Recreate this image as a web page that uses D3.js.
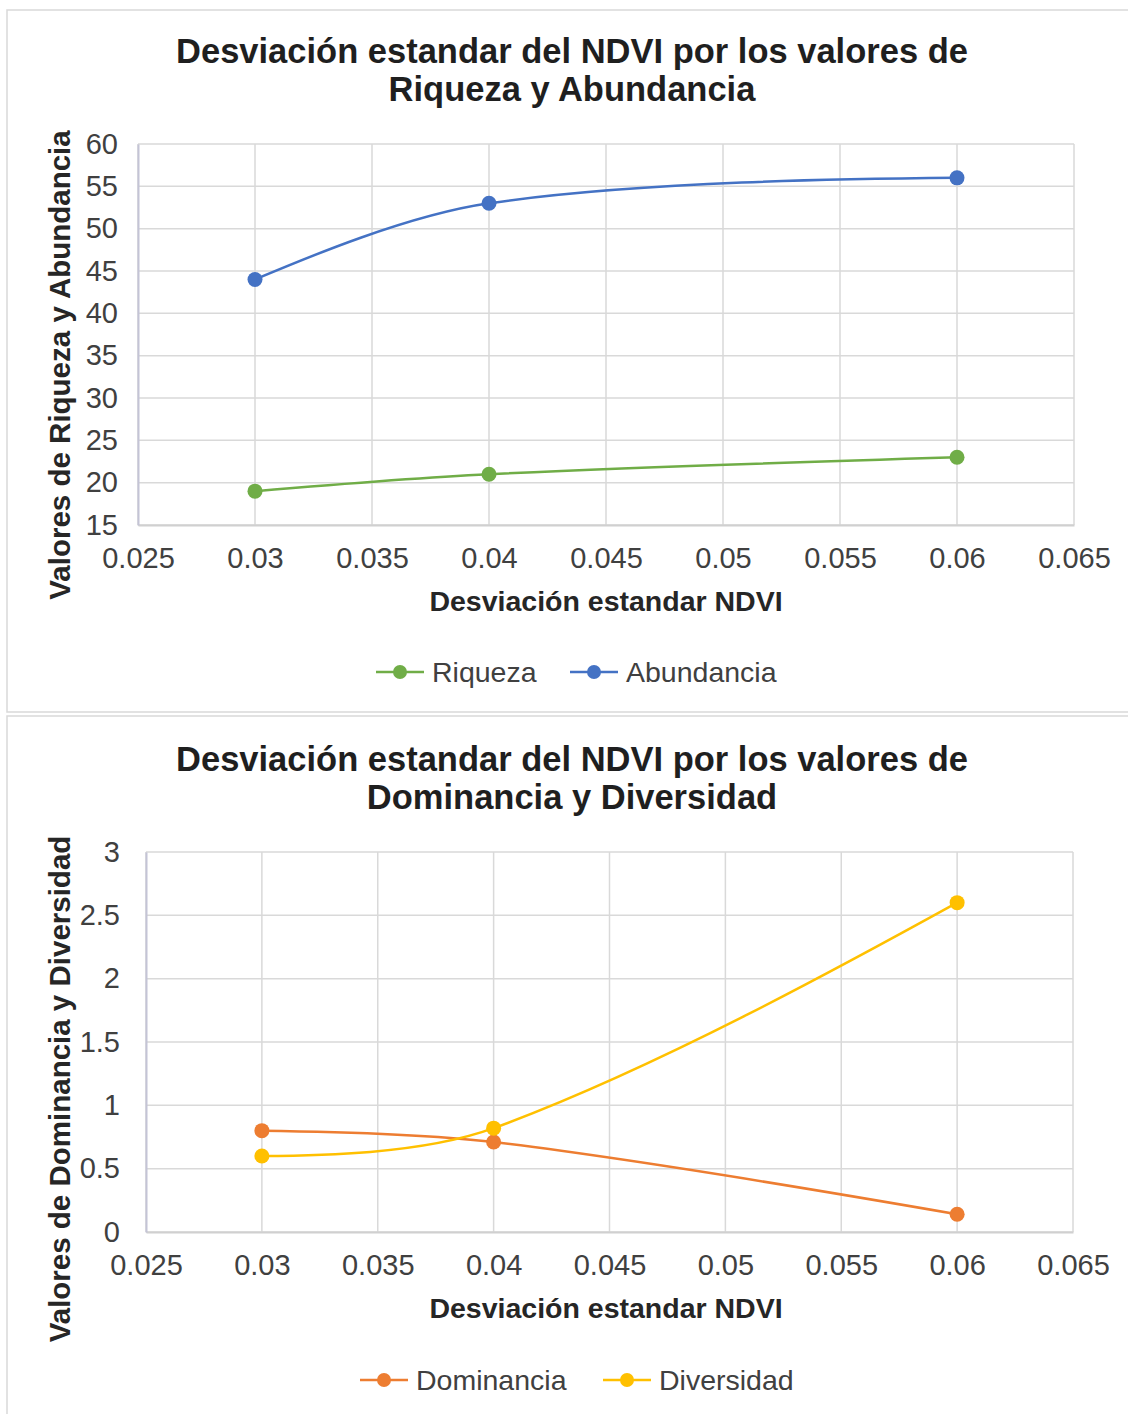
<!DOCTYPE html>
<html>
<head>
<meta charset="utf-8">
<script src="https://cdn.jsdelivr.net/npm/d3@7"></script>
<style>
  html, body { margin: 0; padding: 0; background: #fff; }
  svg { display: block; font-family: "Liberation Sans", Arial, sans-serif; }
</style>
</head>
<body>
<svg id="chart" width="1128" height="1414"></svg>
<script>
// NDVI standard deviation (shared x values)
const ndviSd = [0.03, 0.04, 0.06];
const xTickValues = [0.025, 0.03, 0.035, 0.04, 0.045, 0.05, 0.055, 0.06, 0.065];

// Top chart: richness and abundance
const riqueza = [19, 21, 23];
const abundancia = [44, 53, 56];
const yTicksTop = [15, 20, 25, 30, 35, 40, 45, 50, 55, 60];

// Bottom chart: dominance and diversity
const dominancia = [0.8, 0.71, 0.14];
const diversidad = [0.6, 0.82, 2.6];
const yTicksBottom = [0, 0.5, 1, 1.5, 2, 2.5, 3];

const svg = d3.select("#chart");
const fmt = d => String(+d.toFixed(3));
const FONT = "Liberation Sans, Arial, sans-serif";

// Spreadsheet-style smoothed line: at each interior point the tangent follows
// the chord between its neighbours, with handle lengths of a third of the
// adjacent segment; end handles aim at the neighbouring handle.
function smoothPath(pts) {
  const p = d3.path();
  const n = pts.length;
  if (n < 3) {
    p.moveTo(pts[0][0], pts[0][1]);
    pts.slice(1).forEach(q => p.lineTo(q[0], q[1]));
    return p.toString();
  }
  const before = [], after = [];
  for (let i = 1; i < n - 1; i++) {
    const dx = pts[i + 1][0] - pts[i - 1][0], dy = pts[i + 1][1] - pts[i - 1][1];
    const len = Math.hypot(dx, dy) || 1;
    const ux = dx / len, uy = dy / len;
    const dPrev = Math.hypot(pts[i][0] - pts[i - 1][0], pts[i][1] - pts[i - 1][1]) / 3;
    const dNext = Math.hypot(pts[i + 1][0] - pts[i][0], pts[i + 1][1] - pts[i][1]) / 3;
    before[i] = [pts[i][0] - ux * dPrev, pts[i][1] - uy * dPrev];
    after[i] = [pts[i][0] + ux * dNext, pts[i][1] + uy * dNext];
  }
  after[0] = [pts[0][0] + (before[1][0] - pts[0][0]) / 3, pts[0][1] + (before[1][1] - pts[0][1]) / 3];
  before[n - 1] = [pts[n - 1][0] + (after[n - 2][0] - pts[n - 1][0]) / 3,
                   pts[n - 1][1] + (after[n - 2][1] - pts[n - 1][1]) / 3];
  p.moveTo(pts[0][0], pts[0][1]);
  for (let i = 1; i < n; i++) {
    p.bezierCurveTo(after[i - 1][0], after[i - 1][1], before[i][0], before[i][1], pts[i][0], pts[i][1]);
  }
  return p.toString();
}

function drawChart(cfg) {
  const g = svg.append("g").attr("transform", `translate(0,${cfg.top})`);

  // panel frame
  g.append("rect")
    .attr("x", cfg.frame[0]).attr("y", cfg.frame[1])
    .attr("width", cfg.frame[2]).attr("height", cfg.frame[3])
    .attr("fill", "#fff").attr("stroke", "#d9d9d9").attr("stroke-width", 1.5);

  // title
  const title = g.append("text")
    .attr("text-anchor", "middle")
    .attr("font-weight", "bold").attr("font-size", 34.5).attr("fill", "#1f1f1f");
  cfg.title.forEach((line, i) => {
    title.append("tspan").attr("x", 572).attr("y", 63 + i * 38).text(line);
  });

  const x = d3.scaleLinear().domain([0.025, 0.065]).range([cfg.plot.left, cfg.plot.right]);
  const y = d3.scaleLinear().domain(cfg.yDomain).range([cfg.plot.bottom, cfg.plot.top]);

  // gridlines
  const grid = g.append("g");
  grid.selectAll("line.h").data(cfg.yTicks).join("line")
    .attr("x1", cfg.plot.left).attr("x2", cfg.plot.right)
    .attr("y1", d => y(d)).attr("y2", d => y(d))
    .attr("stroke", "#d9d9d9").attr("stroke-width", 1.5);
  grid.selectAll("line.v").data(xTickValues).join("line")
    .attr("y1", cfg.plot.top).attr("y2", cfg.plot.bottom)
    .attr("x1", d => x(d)).attr("x2", d => x(d))
    .attr("stroke", "#d9d9d9").attr("stroke-width", 1.5);

  // axes
  const xAxis = g.append("g")
    .attr("transform", `translate(0,${cfg.plot.bottom})`)
    .call(d3.axisBottom(x).tickValues(xTickValues).tickFormat(fmt).tickSize(0).tickPadding(22));
  xAxis.select(".domain").attr("stroke", "#d0d0d0").attr("stroke-width", 2);
  xAxis.selectAll("text").attr("font-size", 29).attr("fill", "#404040").attr("font-family", FONT);

  const yAxis = g.append("g")
    .attr("transform", `translate(${cfg.plot.left},0)`)
    .call(d3.axisLeft(y).tickValues(cfg.yTicks).tickFormat(fmt).tickSize(0).tickPadding(cfg.yPad));
  yAxis.select(".domain").attr("stroke", "#c4c4d6").attr("stroke-width", 2);
  yAxis.selectAll("text").attr("font-size", 29).attr("fill", "#404040").attr("font-family", FONT);

  // axis titles
  g.append("text")
    .attr("x", 606).attr("y", cfg.xTitleY)
    .attr("text-anchor", "middle").attr("font-weight", "bold")
    .attr("font-size", 28.5).attr("fill", "#262626")
    .text("Desviación estandar NDVI");
  g.append("text")
    .attr("transform", `translate(${cfg.yTitleX},${cfg.yTitleC}) rotate(-90)`)
    .attr("text-anchor", "middle").attr("font-weight", "bold")
    .attr("font-size", 29.5).attr("fill", "#262626")
    .text(cfg.yTitle);

  // smoothed series lines and markers
  cfg.series.forEach(s => {
    const pts = s.values.map((v, i) => [x(ndviSd[i]), y(v)]);
    g.append("path")
      .attr("d", smoothPath(pts)).attr("fill", "none")
      .attr("stroke", s.color).attr("stroke-width", 2.5);
    g.selectAll(null).data(s.values).join("circle")
      .attr("cx", (d, i) => x(ndviSd[i])).attr("cy", d => y(d))
      .attr("r", 7.5).attr("fill", s.color);
  });

  // legend
  const leg = g.append("g");
  cfg.series.forEach((s, i) => {
    const lx = cfg.legendX[i];
    const item = leg.append("g").attr("transform", `translate(${lx},${cfg.legendY})`);
    item.append("line").attr("x1", 0).attr("x2", 48).attr("y1", 0).attr("y2", 0)
      .attr("stroke", s.color).attr("stroke-width", 2.5);
    item.append("circle").attr("cx", 24).attr("cy", 0).attr("r", 7).attr("fill", s.color);
    item.append("text").attr("x", 56).attr("y", 10)
      .attr("font-size", 28.5).attr("fill", "#404040").text(s.name);
  });
}

drawChart({
  top: 0,
  frame: [7, 10, 1125, 702],
  title: ["Desviación estandar del NDVI por los valores de", "Riqueza y Abundancia"],
  plot: { left: 138, right: 1074, top: 144, bottom: 525 },
  yDomain: [15, 60],
  yTicks: yTicksTop,
  yPad: 20,
  xTitleY: 611,
  yTitleX: 70,
  yTitleC: 365,
  yTitle: "Valores de Riqueza y Abundancia",
  series: [
    { name: "Riqueza", values: riqueza, color: "#70ad47" },
    { name: "Abundancia", values: abundancia, color: "#4472c4" }
  ],
  legendX: [376, 570],
  legendY: 672
});

drawChart({
  top: 708,
  frame: [7, 8, 1125, 702],
  title: ["Desviación estandar del NDVI por los valores de", "Dominancia y Diversidad"],
  plot: { left: 146, right: 1073, top: 144, bottom: 524 },
  yDomain: [0, 3],
  yTicks: yTicksBottom,
  yPad: 26,
  xTitleY: 610,
  yTitleX: 70,
  yTitleC: 381,
  yTitle: "Valores de Dominancia y Diversidad",
  series: [
    { name: "Dominancia", values: dominancia, color: "#ed7d31" },
    { name: "Diversidad", values: diversidad, color: "#ffc000" }
  ],
  legendX: [360, 603],
  legendY: 672
});
</script>
</body>
</html>
